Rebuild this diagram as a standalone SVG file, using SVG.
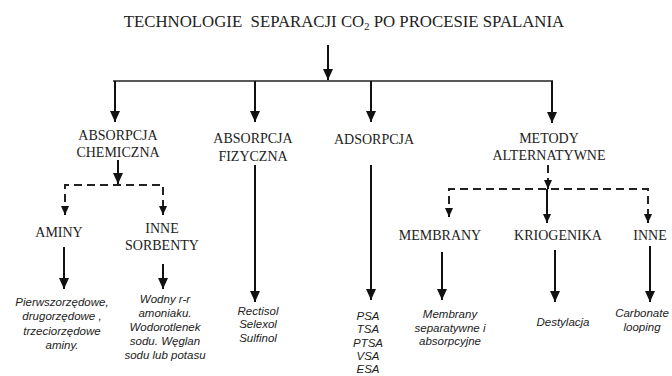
<svg xmlns="http://www.w3.org/2000/svg" width="672" height="376" viewBox="0 0 672 376">
<style>
.t{font-family:"Liberation Serif","Times New Roman",serif;font-size:14px;fill:#222;text-anchor:middle}
.title{font-size:16.8px;white-space:pre}
.i{font-family:"Liberation Sans",Arial,sans-serif;font-style:italic;font-size:11.5px;fill:#222;text-anchor:middle}
.c{stroke:#111;stroke-width:2;fill:none}
.bus{stroke:#222;stroke-width:1.5;fill:none}
.d{stroke:#222;stroke-width:2;fill:none;stroke-dasharray:8 5}
</style>
<defs>
<marker id="ah" markerUnits="userSpaceOnUse" markerWidth="10" markerHeight="11" refX="5" refY="11" orient="0" viewBox="0 0 10 11"><path d="M0,0 L10,0 L5,11 z" fill="#111"/></marker>
<marker id="as" markerUnits="userSpaceOnUse" markerWidth="8" markerHeight="9" refX="4" refY="9" orient="0" viewBox="0 0 8 9"><path d="M0,0 L8,0 L4,9 z" fill="#111"/></marker>
</defs>
<rect width="672" height="376" fill="#fff"/>
<g id="title"><text class="t title" x="344" y="27" xml:space="preserve">TECHNOLOGIE  SEPARACJI CO<tspan font-size="10.5" dy="3">2</tspan><tspan dy="-3"> PO PROCESIE SPALANIA</tspan></text></g>
<g id="abs-chem"><text class="t" x="118" y="140">ABSORPCJA</text><text class="t" x="118" y="157">CHEMICZNA</text></g>
<g id="abs-fiz"><text class="t" x="253" y="143">ABSORPCJA</text><text class="t" x="253" y="161">FIZYCZNA</text></g>
<g id="adsorpcja"><text class="t" x="374" y="144">ADSORPCJA</text></g>
<g id="metody"><text class="t" x="549" y="143">METODY</text><text class="t" x="549" y="160">ALTERNATYWNE</text></g>
<g id="aminy"><text class="t" x="59" y="237">AMINY</text></g>
<g id="inne-sorbenty"><text class="t" x="162" y="233">INNE</text><text class="t" x="162" y="250">SORBENTY</text></g>
<g id="membrany"><text class="t" x="440" y="240">MEMBRANY</text></g>
<g id="kriogenika"><text class="t" x="558" y="240">KRIOGENIKA</text></g>
<g id="inne"><text class="t" x="650" y="240">INNE</text></g>
<g id="aminy-desc"><text class="i" x="62" y="306">Pierwszorzędowe,</text><text class="i" x="62" y="320">drugorzędowe ,</text><text class="i" x="62" y="335">trzeciorzędowe</text><text class="i" x="62" y="349">aminy.</text></g>
<g id="sorbenty-desc"><text class="i" x="165" y="303">Wodny r-r</text><text class="i" x="165" y="317">amoniaku.</text><text class="i" x="165" y="331">Wodorotlenek</text><text class="i" x="165" y="345">sodu. Węglan</text><text class="i" x="165" y="359">sodu lub potasu</text></g>
<g id="fiz-desc"><text class="i" x="258" y="315">Rectisol</text><text class="i" x="258" y="328">Selexol</text><text class="i" x="258" y="342">Sulfinol</text></g>
<g id="ads-desc"><text class="i" x="368" y="320">PSA</text><text class="i" x="368" y="333">TSA</text><text class="i" x="368" y="347">PTSA</text><text class="i" x="368" y="360">VSA</text><text class="i" x="368" y="373">ESA</text></g>
<g id="membrany-desc"><text class="i" x="450" y="318">Membrany</text><text class="i" x="450" y="332">separatywne i</text><text class="i" x="450" y="345">absorpcyjne</text></g>
<g id="kriogenika-desc"><text class="i" x="563" y="326">Destylacja</text></g>
<g id="inne-desc"><text class="i" x="642" y="317">Carbonate</text><text class="i" x="642" y="331">looping</text></g>
<g id="connectors">
<line class="c" x1="328" y1="45" x2="328" y2="80" marker-end="url(#ah)"/>
<line class="bus" x1="113" y1="81" x2="553" y2="81"/>
<line class="c" x1="115" y1="81" x2="115" y2="122" marker-end="url(#ah)"/>
<line class="c" x1="255" y1="81" x2="255" y2="122" marker-end="url(#ah)"/>
<line class="c" x1="371" y1="81" x2="371" y2="122" marker-end="url(#ah)"/>
<line class="c" x1="552" y1="81" x2="552" y2="123" marker-end="url(#ah)"/>
<line class="c" x1="118" y1="160" x2="118" y2="184" marker-end="url(#ah)"/>
<path class="d" d="M65,215 V185 H163 V215"/>
<line class="c" x1="65" y1="206" x2="65" y2="215" marker-end="url(#as)"/>
<line class="c" x1="163" y1="206" x2="163" y2="215" marker-end="url(#as)"/>
<line class="c" x1="64" y1="247" x2="64" y2="289" marker-end="url(#ah)"/>
<line class="c" x1="163" y1="264" x2="163" y2="289" marker-end="url(#ah)"/>
<line class="c" x1="255" y1="165" x2="255" y2="302" marker-end="url(#ah)"/>
<line class="c" x1="371" y1="165" x2="371" y2="300" marker-end="url(#ah)"/>
<line class="d" x1="548" y1="165" x2="548" y2="189" stroke-dasharray="7 4"/>
<line class="c" x1="548" y1="180" x2="548" y2="189" marker-end="url(#as)"/>
<path class="d" d="M449,217 V189 H648 V222"/>
<line class="c" x1="547" y1="189" x2="547" y2="223" marker-end="url(#as)"/>
<line class="c" x1="449" y1="208" x2="449" y2="217" marker-end="url(#as)"/>
<line class="c" x1="648" y1="214" x2="648" y2="223" marker-end="url(#as)"/>
<line class="c" x1="442" y1="252" x2="442" y2="300" marker-end="url(#ah)"/>
<line class="c" x1="555" y1="250" x2="555" y2="302" marker-end="url(#ah)"/>
<line class="c" x1="650" y1="246" x2="650" y2="302" marker-end="url(#ah)"/>
</g>
</svg>
